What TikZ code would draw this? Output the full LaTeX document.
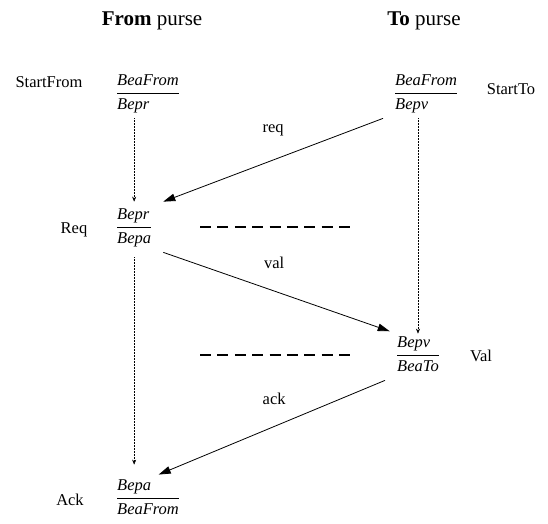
\documentclass[tikz,border=0pt]{standalone}
\usepackage{fontspec}
\setmainfont{Liberation Serif}
\usepackage{tikz}
\usetikzlibrary{arrows.meta}
\setlength{\arrayrulewidth}{0.8pt}
\def\purse#1#2{\renewcommand{\arraystretch}{1.15}\begin{tabular}{@{}l@{}}\textit{#1}\\\hline\textit{#2}\end{tabular}}

\begin{document}
\begin{tikzpicture}[x=1pt, y=-1pt,
		font=\fontsize{16.5}{19.8}\selectfont,
		state/.style={inner xsep=12pt, inner ysep=2pt, anchor=west},
		msg/.style={line width=0.8pt, -{Triangle[length=12pt,width=7.5pt]}},
		flow/.style={line width=0.5pt, densely dotted, -{Stealth[length=5pt,width=4pt]}},
		cut/.style={line width=2pt, dash pattern=on 11pt off 6.375pt}]
			%%%%% START %%%%%
			
			\useasboundingbox (0, 0) rectangle (548, 523);
			
			\node[anchor=base, font=\fontsize{21}{25}\selectfont] (fromhead) at (152, 25) {\textbf{From} purse};
			\node[anchor=base, font=\fontsize{21}{25}\selectfont] (tohead) at (424, 25) {\textbf{To} purse};
			
			\node[state] (startfrom) at (105, 93) {\purse{BeaFrom}{Bepr}};
			\node[state] (startto) at (383, 93) {\purse{BeaFrom}{Bepv}};
			\node[state] (req) at (105, 227) {\purse{Bepr}{Bepa}};
			\node[state] (val) at (385, 355) {\purse{Bepv}{BeaTo}};
			\node[state] (ack) at (105, 498) {\purse{Bepa}{BeaFrom}};
			
			\node[anchor=base] (startfromlab) at (49, 87) {StartFrom};
			\node[anchor=base] (starttolab) at (511, 94) {StartTo};
			\node[anchor=base] (reqlab) at (74, 233) {Req};
			\node[anchor=base] (vallab) at (481, 361) {Val};
			\node[anchor=base] (acklab) at (70, 505) {Ack};
			
			\draw[flow] (startfrom.south -| req) -- (req);
			\draw[flow, shorten <=5pt, shorten >=8pt] (req) -- (ack.north -| req);
			\draw[flow, shorten >=-4pt] (startto.south -| val) -- (val);
			
			\draw[msg] (startto.south west) -- (req.north east) node[midway, yshift=30pt] {req};
			\draw[msg, shorten >=-5pt] (req.south east) -- (val.north west) node[midway, yshift=28pt] {val};
			\draw[msg, shorten >=-5pt] (val.south west) -- (ack.north -| req.north east) node[midway, yshift=28pt] {ack};
			
			\draw[cut] (200, 227) -- (350, 227);
			\draw[cut] (200, 355) -- (350, 355);
			
			%%%%% END %%%%%
		\end{tikzpicture}
\end{document}
